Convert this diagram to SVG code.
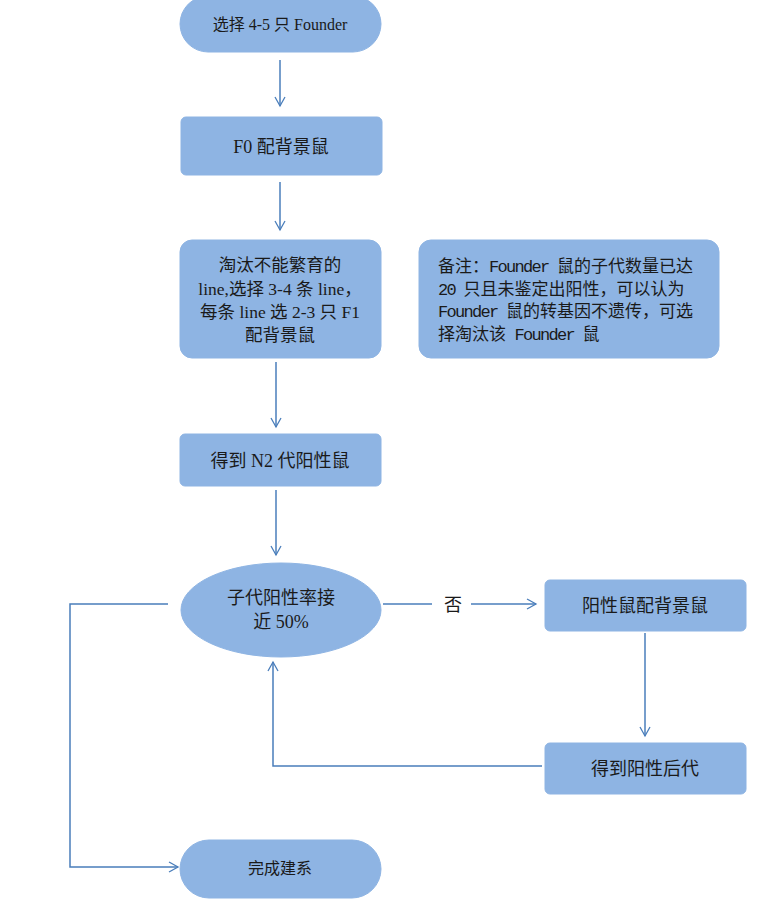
<svg xmlns="http://www.w3.org/2000/svg" width="780" height="900" viewBox="0 0 780 900">
<style>
.n{fill:#8eb4e3;stroke:#8eb4e3;stroke-width:1}
.t{font-family:"Liberation Serif","Noto Sans CJK SC",serif;font-size:18px;fill:#1a1a1a;text-anchor:middle}
.s16{font-size:16px}
.s17{font-size:17.5px}
.m{font-family:"Liberation Serif","Noto Sans CJK SC",serif;font-size:17px;fill:#1a1a1a}
.l{font-family:"Liberation Mono",monospace;letter-spacing:-1.7px}
.c{fill:none;stroke:#4a7ebb;stroke-width:1.5}
</style>
<defs>
<marker id="a" markerWidth="12" markerHeight="12" refX="10" refY="6" orient="auto" markerUnits="userSpaceOnUse">
<path d="M1,1 L10,6 L1,11" fill="none" stroke="#4a7ebb" stroke-width="1.3"/>
</marker>
</defs>
<rect width="780" height="900" fill="#fff"/>
<g id="connectors">
<line class="c" x1="280" y1="60" x2="280" y2="106" marker-end="url(#a)"/>
<line class="c" x1="280" y1="182" x2="280" y2="230" marker-end="url(#a)"/>
<line class="c" x1="276" y1="362" x2="276" y2="427" marker-end="url(#a)"/>
<line class="c" x1="276" y1="490" x2="276" y2="555" marker-end="url(#a)"/>
<line class="c" x1="383" y1="604" x2="432" y2="604"/>
<line class="c" x1="471" y1="604" x2="536" y2="604" marker-end="url(#a)"/>
<text class="t" x="453" y="611">否</text>
<line class="c" x1="645" y1="633" x2="645" y2="736" marker-end="url(#a)"/>
<polyline class="c" points="542,766 273,766 273,662" marker-end="url(#a)"/>
<polyline class="c" points="168,604 70,604 70,867 178,867" marker-end="url(#a)"/>
</g>
<g id="n1">
<rect class="n" x="180" y="-4" width="201" height="56" rx="28"/>
<text class="t s16" x="280" y="30">选择 4-5 只 Founder</text>
</g>
<g id="n2">
<rect class="n" x="181" y="117" width="201" height="58" rx="5"/>
<text class="t" x="281" y="153">F0 配背景鼠</text>
</g>
<g id="n3">
<rect class="n" x="180" y="240" width="201" height="118" rx="12"/>
<text class="t s17" x="280" y="271">淘汰不能繁育的</text>
<text class="t s17" x="280" y="295">line,选择 3-4 条 line，</text>
<text class="t s17" x="280" y="318">每条 line 选 2-3 只 F1</text>
<text class="t s17" x="280" y="341">配背景鼠</text>
</g>
<g id="note">
<rect class="n" x="419" y="240" width="300" height="118" rx="12"/>
<text class="m" x="438" y="272">备注：<tspan class="l">Founder </tspan>鼠的子代数量已达</text>
<text class="m" x="438" y="295"><tspan class="l">20 </tspan>只且未鉴定出阳性，可以认为</text>
<text class="m" x="438" y="317"><tspan class="l">Founder </tspan>鼠的转基因不遗传，可选</text>
<text class="m" x="438" y="340">择淘汰该<tspan class="l"> Founder </tspan>鼠</text>
</g>
<g id="n4">
<rect class="n" x="180" y="434" width="201" height="52" rx="5"/>
<text class="t" x="280" y="467">得到 N2 代阳性鼠</text>
</g>
<g id="d">
<ellipse class="n" cx="281" cy="610" rx="100" ry="47"/>
<text class="t" x="281" y="604">子代阳性率接</text>
<text class="t" x="281" y="628">近 50%</text>
</g>
<g id="n5">
<rect class="n" x="545" y="580" width="201" height="51" rx="5"/>
<text class="t" x="645" y="612">阳性鼠配背景鼠</text>
</g>
<g id="n6">
<rect class="n" x="545" y="743" width="201" height="51" rx="5"/>
<text class="t" x="645" y="775">得到阳性后代</text>
</g>
<g id="n7">
<rect class="n" x="180" y="840" width="201" height="58" rx="29"/>
<text class="t s16" x="280" y="874">完成建系</text>
</g>
</svg>
